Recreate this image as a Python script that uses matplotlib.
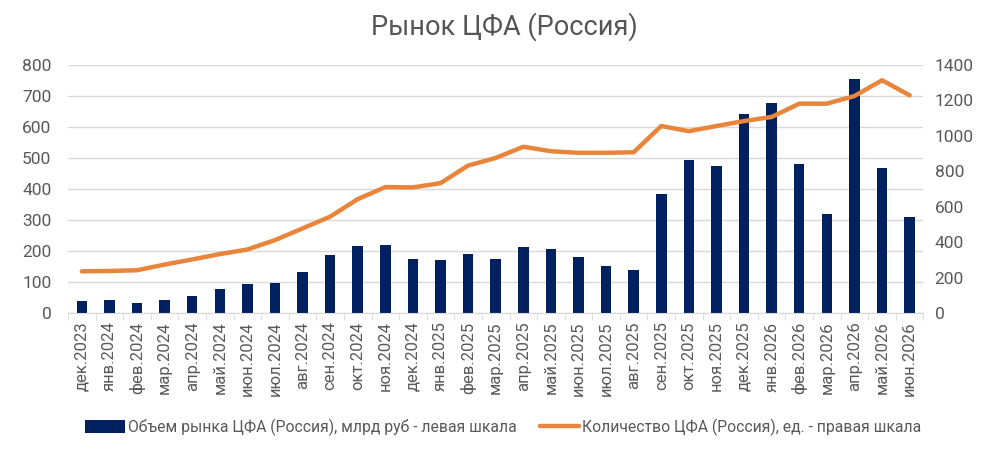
import numpy as np
import matplotlib
matplotlib.use("Agg")
from matplotlib import pyplot as plt

months = ['дек.2023', 'янв.2024', 'фев.2024', 'мар.2024', 'апр.2024', 'май.2024',
          'июн.2024', 'июл.2024', 'авг.2024', 'сен.2024', 'окт.2024', 'ноя.2024',
          'дек.2024', 'янв.2025', 'фев.2025', 'мар.2025', 'апр.2025', 'май.2025',
          'июн.2025', 'июл.2025', 'авг.2025', 'сен.2025', 'окт.2025', 'ноя.2025',
          'дек.2025', 'янв.2026', 'фев.2026', 'мар.2026', 'апр.2026', 'май.2026',
          'июн.2026']

# market volume, bn rub (left axis)
volume = [39, 41, 34, 43, 55, 77, 94, 96, 132, 189, 216, 220, 173, 170, 190, 173,
          213, 208, 181, 152, 138, 383, 493, 473, 641, 676, 479, 319, 755, 468, 310]

# number of issues (right axis)
count = [236, 238, 242, 274, 303, 333, 359, 412, 478, 544, 643, 711, 709, 733, 832, 875,
         938, 913, 904, 904, 907, 1055, 1026, 1055, 1083, 1106, 1181, 1181, 1224, 1313, 1228]

plt.rcParams['font.family'] = ['Roboto', 'DejaVu Sans']
grey = '#595959'
navy = '#002060'
orange = '#E8853A'

fig = plt.figure(figsize=(9.97, 4.5), dpi=100)
ax = fig.add_axes([0.0682, 0.304, 0.858, 0.552])
ax2 = ax.twinx()

x = np.arange(len(months))
bars = ax.bar(x, volume, width=0.38, color=navy, zorder=2,
              label='Объем рынка ЦФА (Россия), млрд руб - левая шкала')
line, = ax2.plot(x, count, color=orange, linewidth=3.2, solid_capstyle='round',
                 label='Количество ЦФА (Россия), ед. - правая шкала')

ax.set_ylim(0, 800)
ax.set_yticks(range(0, 801, 100))
ax2.set_ylim(0, 1400)
ax2.set_yticks(range(0, 1401, 200))
ax.set_xlim(-0.5, len(months) - 0.5)

ax.grid(axis='y', color='#D9D9D9', linewidth=1, zorder=0)
ax.set_axisbelow(True)

for a in (ax, ax2):
    for s in ('top', 'left', 'right', 'bottom'):
        a.spines[s].set_visible(False)
ax.spines['bottom'].set_visible(True)
ax.spines['bottom'].set_color('#D9D9D9')

ax.set_xticks(x)
ax.set_xticklabels(months, rotation=90, fontsize=12, color=grey)
ax.set_xticks(np.arange(-0.5, len(months), 1), minor=True)
ax.tick_params(axis='x', which='major', length=0, pad=6)
ax.tick_params(axis='x', which='minor', length=5, color='#D9D9D9')
ax.tick_params(axis='y', length=0, labelsize=12.5, labelcolor=grey, pad=12)
ax2.tick_params(axis='y', length=0, labelsize=12.5, labelcolor=grey, pad=8)

fig.text(0.506, 0.94, 'Рынок ЦФА (Россия)', ha='center', va='center',
         fontsize=19.5, color='#555555')

fig.legend(handles=[bars, line], loc='center', bbox_to_anchor=(0.505, 0.05),
           ncol=2, frameon=False, fontsize=11.3, labelcolor=grey,
           handlelength=2.5, handleheight=0.9, columnspacing=1.5, handletextpad=0.2)

fig.savefig('out.png', dpi=100)
